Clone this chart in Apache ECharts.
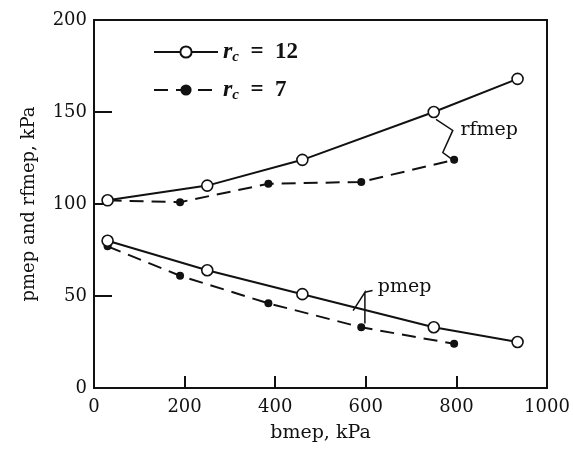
<!DOCTYPE html>
<html><head><meta charset="utf-8">
<script src="https://cdn.jsdelivr.net/npm/echarts@6/dist/echarts.min.js"></script>
<style>html,body{margin:0;padding:0;background:#fff}#c{width:573px;height:466px}</style>
</head><body><div id="c"></div>
<script>
// Data
const xRc12 = [30, 250, 460, 750, 935];
const rfmepRc12 = [102, 110, 124, 150, 168];
const pmepRc12 = [80, 64, 51, 33, 25];
const xRc7 = [30, 190, 385, 590, 795];
const rfmepRc7 = [102, 101, 111, 112, 124];
const pmepRc7 = [77, 61, 46, 33, 24];
const xTicks = [0, 200, 400, 600, 800, 1000];
const yTicks = [0, 50, 100, 150, 200];

const pairs = (xs, ys) => xs.map((x, i) => [x, ys[i]]);
const serif = '"DejaVu Serif", "Liberation Serif", serif';
const tserif = '"Liberation Serif", "DejaVu Serif", serif';

const openStyle = {
  type: 'line', name: 'rc12', symbol: 'circle', symbolSize: 11,
  itemStyle: { color: '#fff', borderColor: '#111', borderWidth: 1.6 },
  lineStyle: { color: '#111', width: 2, type: 'solid' }, z: 3
};
const dotStyle = {
  type: 'line', name: 'rc7', symbol: 'circle', symbolSize: 8,
  itemStyle: { color: '#111', borderColor: '#111', borderWidth: 0 },
  lineStyle: { color: '#111', width: 2, type: [14, 8] }, z: 2
};

const chart = echarts.init(document.getElementById('c'), null, { renderer: 'canvas' });
chart.setOption({
  backgroundColor: '#fff',
  animation: false,
  grid: { left: 94, right: 26, top: 20, bottom: 78, show: true, borderColor: '#111', borderWidth: 2 },
  legend: {
    data: ['rc12', 'rc7'], orient: 'vertical', left: 148, top: 35, itemGap: 13,
    itemWidth: 64, itemHeight: 14,
    formatter: n => n === 'rc12' ? '{i|r}{s|c}{t|  =  12}' : '{i|r}{s|c}{t|  =  7}',
    textStyle: {
      color: '#111', fontFamily: tserif,
      rich: {
        i: { fontStyle: 'italic', fontWeight: 'bold', fontSize: 24, fontFamily: tserif, color: '#111' },
        s: { fontStyle: 'italic', fontWeight: 'bold', fontSize: 15, fontFamily: tserif, color: '#111', verticalAlign: 'bottom', padding: [11, 0, 0, 0] },
        t: { fontWeight: 'bold', fontSize: 23, fontFamily: tserif, color: '#111' }
      }
    }
  },
  xAxis: {
    type: 'value', min: 0, max: 1000, interval: 200,
    name: 'bmep, kPa', nameLocation: 'middle', nameGap: 36,
    nameTextStyle: { fontFamily: serif, fontSize: 19, color: '#111' },
    axisLine: { lineStyle: { color: '#111', width: 2 } },
    axisTick: { inside: true, length: 12, lineStyle: { color: '#111', width: 2 } },
    axisLabel: { fontFamily: serif, fontSize: 18, color: '#111', margin: 10,
      formatter: v => xTicks.includes(v) ? String(v) : '' },
    splitLine: { show: false }
  },
  yAxis: {
    type: 'value', min: 0, max: 200, interval: 50,
    name: 'pmep and rfmep, kPa', nameLocation: 'middle', nameGap: 56,
    nameTextStyle: { fontFamily: serif, fontSize: 18, color: '#111' },
    axisLine: { lineStyle: { color: '#111', width: 2 } },
    axisTick: { inside: true, length: 18, lineStyle: { color: '#111', width: 2 } },
    axisLabel: { fontFamily: serif, fontSize: 18, color: '#111', margin: 7,
      formatter: v => yTicks.includes(v) ? String(v) : '' },
    splitLine: { show: false }
  },
  series: [
    Object.assign({}, openStyle, { data: pairs(xRc12, rfmepRc12) }),
    Object.assign({}, openStyle, { data: pairs(xRc12, pmepRc12) }),
    Object.assign({}, dotStyle, { data: pairs(xRc7, rfmepRc7) }),
    Object.assign({}, dotStyle, { data: pairs(xRc7, pmepRc7) })
  ]
});

// Annotations (curve labels with leader lines), placed in data space
const P = (x, y) => chart.convertToPixel({ gridIndex: 0 }, [x, y]);
const a1 = P(755, 146), a2 = P(792, 140), a3 = P(770, 128), a4 = P(792, 124);
const b1 = P(572, 42), b2 = P(598, 52), b3 = P(598, 35), b4 = P(615, 53);
const t1 = P(800, 140), t2 = P(622, 55);
chart.setOption({
  graphic: [
    { type: 'polyline', shape: { points: [a1, a2, a3, a4] }, style: { stroke: '#111', lineWidth: 1.5, fill: null } },
    { type: 'polyline', shape: { points: [b1, b2, b3] }, style: { stroke: '#111', lineWidth: 1.5, fill: null } },
    { type: 'polyline', shape: { points: [b2, b4] }, style: { stroke: '#111', lineWidth: 1.5, fill: null } },
    { type: 'text', x: t1[0] + 4, y: t1[1], style: { text: 'rfmep', font: '19px ' + serif, fill: '#111', textVerticalAlign: 'middle' } },
    { type: 'text', x: t2[0] + 2, y: t2[1], style: { text: 'pmep', font: '19px ' + serif, fill: '#111', textVerticalAlign: 'middle' } }
  ]
});
</script></body></html>
